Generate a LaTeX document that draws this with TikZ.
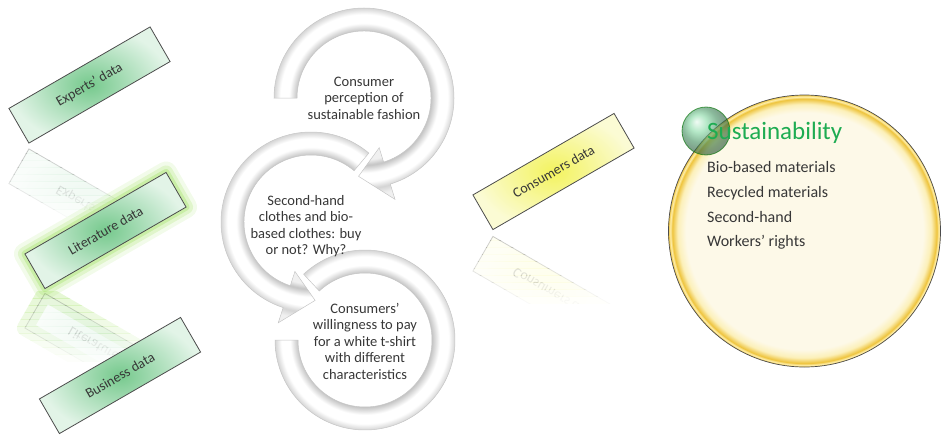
\documentclass[tikz,border=0pt]{standalone}
\usepackage{fontspec}
\setmainfont{Carlito}
\usepackage{tikz}

\definecolor{boxgreen}{RGB}{118,201,141}
\definecolor{boxgreenlt}{RGB}{226,244,231}
\definecolor{boxyellow}{RGB}{243,243,95}
\definecolor{boxyellowlt}{RGB}{251,251,212}
\definecolor{glowgreen}{RGB}{150,222,80}
\definecolor{textgray}{RGB}{55,55,55}
\definecolor{susgreen}{RGB}{30,172,82}
\definecolor{suscream}{RGB}{253,249,232}
\definecolor{suslight}{RGB}{252,240,185}
\definecolor{susgold}{RGB}{238,196,62}
\definecolor{sushigh}{RGB}{255,240,175}
\definecolor{bandwhite}{RGB}{255,255,255}
\definecolor{bandsoft}{RGB}{240,240,240}
\definecolor{bandedge}{RGB}{212,212,212}
\definecolor{bandinner}{RGB}{196,196,196}

% the shading's 25bp circle fits the path
\pgfdeclareradialshading{bandring}{\pgfpoint{0bp}{0bp}}{color(0bp)=(bandsoft); color(14bp)=(bandsoft); color(15.2bp)=(bandinner); color(17bp)=(bandwhite); color(19bp)=(bandwhite); color(20.5bp)=(bandedge); color(22bp)=(bandsoft); color(50bp)=(bandsoft)}
\pgfdeclareradialshading{sustfill}{\pgfpoint{0bp}{0bp}}{color(0bp)=(suscream); color(21.8bp)=(suscream); color(23.3bp)=(suslight); color(24.3bp)=(susgold); color(24.7bp)=(sushigh); color(25bp)=(susgold); color(50bp)=(susgold)}

\begin{document}
\begin{tikzpicture}[x=1pt, y=1pt,
    databox/.style={draw=black!70, line width=.8pt, shade, inner color=boxgreen, outer color=boxgreenlt,
      minimum width=163pt, minimum height=40pt, inner sep=0pt, text=textgray, font=\fontsize{14}{16}\selectfont},
    consbox/.style={databox, inner color=boxyellow, outer color=boxyellowlt},
    glowing/.style={preaction={draw=glowgreen, line width=22pt, opacity=.12, line join=round},
      preaction={draw=glowgreen, line width=14pt, opacity=.2, line join=round},
      preaction={draw=glowgreen, line width=7pt, opacity=.3, line join=round}},
    reflglow/.style={preaction={draw=glowgreen, line width=16pt, opacity=#1, line join=round}},
    steptext/.style={align=center, text=textgray, font=\fontsize{14.5}{16.5}\selectfont},
    bandline/.style={draw=gray!45, line width=.5pt},
    listitem/.style={anchor=base west, inner sep=0pt, text=textgray, font=\fontsize{16}{19}\selectfont}]
  \useasboundingbox (0,0) rectangle (942,-436);

  % reflections, faded in strips
  \foreach \k in {0,...,9} {
    \pgfmathsetmacro\reflop{0.3*(1-\k/10)}
    \pgfmathsetmacro\glowop{0.8*\reflop}
    \begin{scope}
      \clip (-20,-146-7*\k) rectangle (220,-153-7*\k);
      \node[databox, yscale=-1, rotate=30, opacity=\reflop] (expertsrefl\k) at (89.5,-207) {Experts’ data};
    \end{scope}
    \begin{scope}
      \clip (-20,-291-7*\k) rectangle (240,-298-7*\k);
      \node[databox, reflglow=\glowop, yscale=-1, rotate=30, opacity=\reflop] (literaturerefl\k) at (105.5,-351.5) {Literature data};
    \end{scope}
    \begin{scope}
      \clip (450,-233-7*\k) rectangle (660,-240-7*\k);
      \node[consbox, yscale=-1, rotate=30, opacity=\reflop] (consumersrefl\k) at (553.5,-294.5) {Consumers data};
    \end{scope}
  }

  % data sources
  \node[databox, rotate=30] (experts) at (89.5,-85) {Experts’ data};
  \node[databox, glowing, rotate=30] (literature) at (105.5,-230.5) {Literature data};
  \node[databox, rotate=30] (business) at (120,-375.5) {Business data};
  \node[consbox, rotate=30] (consumers) at (553.5,-171.5) {Consumers data};

  % circular steps
  \begin{scope}[shift={(365,-340)}]
    \path[save path=\bandC] (133:90) arc[start angle=133, end angle=-180, radius=90]
      -- (180:67) arc[start angle=-180, end angle=133, radius=67] -- cycle;
    \begin{scope}
      \clip[use path=\bandC];
      \shade[shading=bandring] (0,0) circle (110);
    \end{scope}
    \draw[bandline, use path=\bandC];
  \end{scope}
  \begin{scope}[shift={(311,-222)}]
    \path[save path=\bandB] (50:90) arc[start angle=50, end angle=252, radius=90]
      -- (252:106) -- (273:78.5) -- (252:52)
      -- (252:67) arc[start angle=252, end angle=50, radius=67] -- cycle;
    \begin{scope}
      \clip[use path=\bandB];
      \shade[shading=bandring] (0,0) circle (110);
    \end{scope}
    \draw[bandline, use path=\bandB];
  \end{scope}
  \begin{scope}[shift={(364,-98)}]
    \path[save path=\bandA] (180:90) arc[start angle=180, end angle=-73, radius=90]
      -- (-73:106) -- (-94:78.5) -- (-73:52)
      -- (-73:67) arc[start angle=-73, end angle=180, radius=67] -- cycle;
    \begin{scope}
      \clip[use path=\bandA];
      \shade[shading=bandring] (0,0) circle (110);
    \end{scope}
    \draw[bandline, use path=\bandA];
  \end{scope}

  \node[steptext] (percep) at (364,-98) {Consumer\\perception of\\sustainable fashion};
  \node[steptext] (buyornot) at (306,-226) {Second-hand\\clothes and bio-\\based clothes: buy\\or not? Why?};
  \node[steptext] (wtp) at (365,-341) {Consumers’\\willingness to pay\\for a white t-shirt\\with different\\characteristics};

  % sustainability
  \node[circle, minimum size=272pt, draw=black!70, line width=.7pt, shade, shading=sustfill] (sustain) at (804.5,-231) {};
  \node[circle, minimum size=48pt, draw=green!45!black, line width=.8pt,
    ball color={rgb,255:red,95;green,205;blue,135}, opacity=.62] (greenball) at (706,-131) {};
  \node[anchor=base west, inner sep=0pt, text=susgreen, font=\fontsize{25}{30}\selectfont] (sustitle) at (707,-139) {Sustainability};
  \node[listitem] (biobased) at (707,-172) {Bio-based materials};
  \node[listitem] (recycled) at (707,-197) {Recycled materials};
  \node[listitem] (secondhand) at (707,-222) {Second-hand};
  \node[listitem] (workers) at (707,-246) {Workers’ rights};
\end{tikzpicture}
\end{document}
